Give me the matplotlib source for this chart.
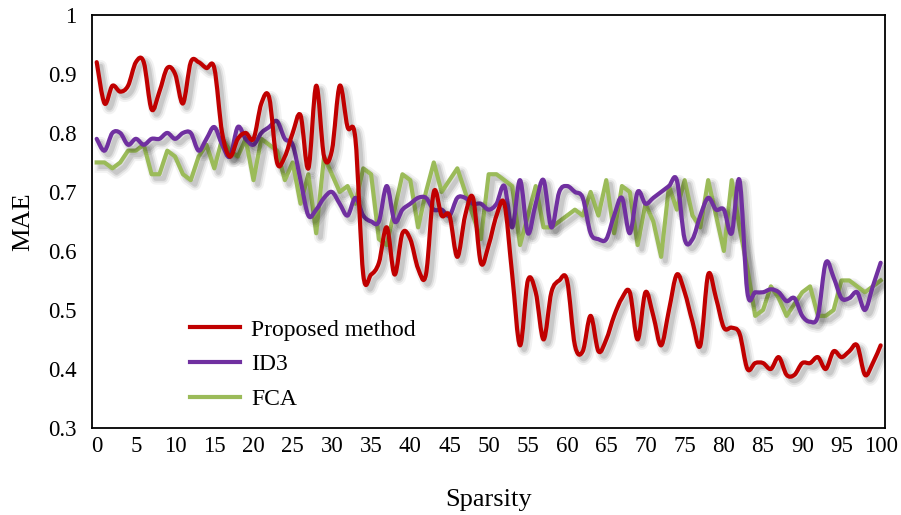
import matplotlib
matplotlib.use("Agg")
import matplotlib.pyplot as plt
import matplotlib.patheffects as pe
from matplotlib.path import Path
from matplotlib.patches import PathPatch
from matplotlib.lines import Line2D
from matplotlib.ticker import FuncFormatter

plt.rcParams['font.family'] = ['Liberation Serif', 'DejaVu Serif']

sparsity = list(range(0, 101))

proposed = [0.92, 0.85, 0.88, 0.87, 0.88, 0.92, 0.92, 0.84, 0.87, 0.91,
            0.90, 0.85, 0.92, 0.92, 0.91, 0.91, 0.80, 0.76, 0.79, 0.80,
            0.79, 0.85, 0.86, 0.75, 0.76, 0.80, 0.83, 0.74, 0.88, 0.76,
            0.77, 0.88, 0.81, 0.79, 0.56, 0.56, 0.58, 0.64, 0.56, 0.63,
            0.62, 0.57, 0.56, 0.70, 0.66, 0.66, 0.59, 0.66, 0.69, 0.58,
            0.61, 0.66, 0.68, 0.56, 0.44, 0.55, 0.53, 0.45, 0.53, 0.55,
            0.55, 0.44, 0.43, 0.49, 0.43, 0.45, 0.49, 0.52, 0.53, 0.45,
            0.53, 0.49, 0.44, 0.50, 0.56, 0.53, 0.48, 0.44, 0.56, 0.52,
            0.47, 0.47, 0.46, 0.40, 0.41, 0.41, 0.40, 0.42, 0.39, 0.39,
            0.41, 0.41, 0.42, 0.40, 0.43, 0.42, 0.43, 0.44, 0.39, 0.41,
            0.44]

id3 = [0.79, 0.77, 0.80, 0.80, 0.78, 0.79, 0.78, 0.79, 0.79, 0.80,
       0.79, 0.80, 0.80, 0.77, 0.79, 0.81, 0.78, 0.76, 0.81, 0.79,
       0.78, 0.80, 0.81, 0.82, 0.79, 0.78, 0.72, 0.66, 0.67, 0.69,
       0.70, 0.68, 0.66, 0.69, 0.66, 0.65, 0.65, 0.71, 0.65, 0.67,
       0.68, 0.69, 0.69, 0.67, 0.67, 0.66, 0.69, 0.69, 0.68, 0.68,
       0.67, 0.68, 0.71, 0.64, 0.72, 0.63, 0.68, 0.72, 0.64, 0.70,
       0.71, 0.70, 0.69, 0.63, 0.62, 0.62, 0.66, 0.69, 0.63, 0.70,
       0.68, 0.69, 0.70, 0.71, 0.72, 0.62, 0.62, 0.66, 0.69, 0.67,
       0.67, 0.63, 0.72, 0.53, 0.53, 0.53, 0.535, 0.53, 0.515, 0.52,
       0.49, 0.48, 0.49, 0.58, 0.555, 0.52, 0.52, 0.53, 0.50, 0.54,
       0.58]

fca = [0.75, 0.75, 0.74, 0.75, 0.77, 0.77, 0.78, 0.73, 0.73, 0.77,
       0.76, 0.73, 0.72, 0.76, 0.78, 0.74, 0.79, 0.77, 0.76, 0.79,
       0.72, 0.79, 0.78, 0.77, 0.72, 0.75, 0.68, 0.73, 0.63, 0.76,
       0.73, 0.70, 0.71, 0.68, 0.74, 0.73, 0.62, 0.61, 0.67, 0.73,
       0.72, 0.64, 0.70, 0.75, 0.70, 0.72, 0.74, 0.70, 0.66, 0.62,
       0.73, 0.73, 0.72, 0.71, 0.61, 0.66, 0.71, 0.64, 0.64, 0.65,
       0.66, 0.67, 0.66, 0.70, 0.66, 0.72, 0.63, 0.71, 0.70, 0.61,
       0.68, 0.65, 0.59, 0.71, 0.67, 0.72, 0.66, 0.64, 0.72, 0.66,
       0.60, 0.72, 0.64, 0.57, 0.49, 0.50, 0.54, 0.52, 0.49, 0.51,
       0.53, 0.54, 0.49, 0.49, 0.50, 0.55, 0.55, 0.54, 0.53, 0.54,
       0.55]

labels = ['Proposed method', 'ID3', 'FCA']
colors = ['#C00000', '#7030A0', '#9BBB59']


def smooth_path(xs, ys):
    # excel-like smoothed line: catmull-rom control points as cubic bezier
    pts = list(zip(xs, ys))
    n = len(pts)
    verts = [pts[0]]
    codes = [Path.MOVETO]
    for i in range(n - 1):
        p0 = pts[i - 1] if i > 0 else pts[i]
        p1 = pts[i]
        p2 = pts[i + 1]
        p3 = pts[i + 2] if i + 2 < n else pts[i + 1]
        c1 = (p1[0] + (p2[0] - p0[0]) / 6, p1[1] + (p2[1] - p0[1]) / 6)
        c2 = (p2[0] - (p3[0] - p1[0]) / 6, p2[1] - (p3[1] - p1[1]) / 6)
        verts += [c1, c2, p2]
        codes += [Path.CURVE4] * 3
    return Path(verts, codes)


def shadow():
    # soft grey drop shadow, a few stacked strokes to fake the blur
    return [pe.SimpleLineShadow(offset=(3, -3), shadow_color='k', alpha=0.05,
                                linewidth=9, joinstyle='round'),
            pe.SimpleLineShadow(offset=(3, -3), shadow_color='k', alpha=0.08,
                                linewidth=6, joinstyle='round'),
            pe.SimpleLineShadow(offset=(3, -3), shadow_color='k', alpha=0.10,
                                linewidth=3.5, joinstyle='round'),
            pe.Normal()]


fig = plt.figure(figsize=(9.01, 5.15), dpi=100)
ax = fig.add_axes([0.1021, 0.169, 0.8801, 0.802])

lw = 3.0
ax.plot(sparsity, fca, color=colors[2], lw=lw, solid_joinstyle='round',
        path_effects=shadow(), zorder=2)
for ys, c, z in [(id3, colors[1], 3), (proposed, colors[0], 4)]:
    patch = PathPatch(smooth_path(sparsity, ys), fill=False, edgecolor=c, lw=lw,
                      capstyle='round', joinstyle='round', zorder=z)
    patch.set_path_effects(shadow())
    ax.add_patch(patch)

ax.set_xlim(-0.6, 100.55)
ax.set_ylim(0.3, 1.0)
ax.set_xticks(range(0, 101, 5))
ax.set_yticks([0.3, 0.4, 0.5, 0.6, 0.7, 0.8, 0.9, 1.0])
ax.yaxis.set_major_formatter(FuncFormatter(lambda v, p: '%g' % round(v, 2)))
ax.tick_params(axis='both', length=0, labelsize=16.5)
ax.tick_params(axis='x', pad=6)
ax.tick_params(axis='y', pad=11)
for s in ax.spines.values():
    s.set_linewidth(1.3)
    s.set_color('black')

ax.set_xlabel('Sparsity', fontsize=19, labelpad=23)
ax.set_ylabel('MAE', fontsize=19, labelpad=10)

handles = [Line2D([], [], color=c, lw=lw) for c in colors]
ax.legend(handles, labels, loc='upper left', bbox_to_anchor=(190 / 901, 1 - 319 / 515),
          bbox_transform=fig.transFigure, frameon=False, fontsize=17,
          handlelength=2.1, handletextpad=0.5, labelspacing=0.56,
          borderpad=0, borderaxespad=0)

fig.savefig('out.png', dpi=100)
